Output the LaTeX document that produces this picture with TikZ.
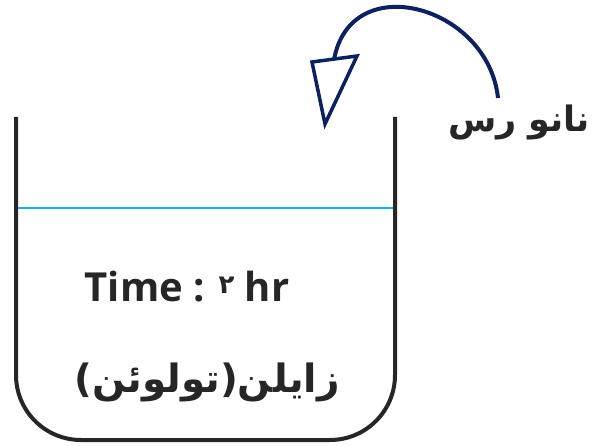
\documentclass[tikz,border=0pt]{standalone}
\usepackage{fontspec}
\setmainfont{Open Sans}
\newfontfamily\arabicfont[Script=Arabic]{DejaVu Sans}
\TeXXeTstate=1
\definecolor{wallc}{HTML}{262626}
\definecolor{waterc}{HTML}{1EAEE6}
\definecolor{navyc}{HTML}{0B2160}
\definecolor{textc}{HTML}{262626}
\tikzset{
  wall/.style={draw=wallc,line width=4pt,rounded corners=65pt},
  water/.style={draw=waterc,line width=2pt},
  arrowline/.style={draw=navyc,line width=4pt},
  headtri/.style={draw=navyc,line width=3.5pt,fill=white,line join=miter},
  lbl/.style={text=textc,font=\bfseries,inner sep=0pt}
}
\begin{document}
\begin{tikzpicture}[x=1pt,y=-1pt]
\useasboundingbox (0,0) rectangle (594,446);
\coordinate (wl) at (16,117);
\coordinate (wr) at (395,117);
\draw[wall] (wl) -- (16,440) -- (395,440) -- (wr);
\coordinate (sl) at (18,208);
\coordinate (sr) at (393,208);
\draw[water] (sl) -- (sr);
\node[lbl,font=\bfseries\fontsize{40}{48}\selectfont] (time) at (187,287) {Time : \raisebox{8pt}{\arabicfont\fontsize{26}{30}\selectfont ۲} hr};
\node[lbl,font=\arabicfont\bfseries\fontsize{39}{46}\selectfont] (xyl) at (207,382) {\beginR زایلن(تولوئن)\endR};
\node[lbl,font=\arabicfont\bfseries\fontsize{35}{42}\selectfont] (nano) at (519,122) {\beginR نانو رس\endR};
\coordinate (astart) at (498,98);
\coordinate (aend) at (334,60);
\draw[arrowline] (astart) .. controls (488,5) and (350,-32) .. (aend);
\coordinate (t1) at (312,62);
\coordinate (t2) at (357,56);
\coordinate (t3) at (325,124);
\draw[headtri] (t1) -- (t2) -- (t3) -- cycle;
\end{tikzpicture}
\end{document}
